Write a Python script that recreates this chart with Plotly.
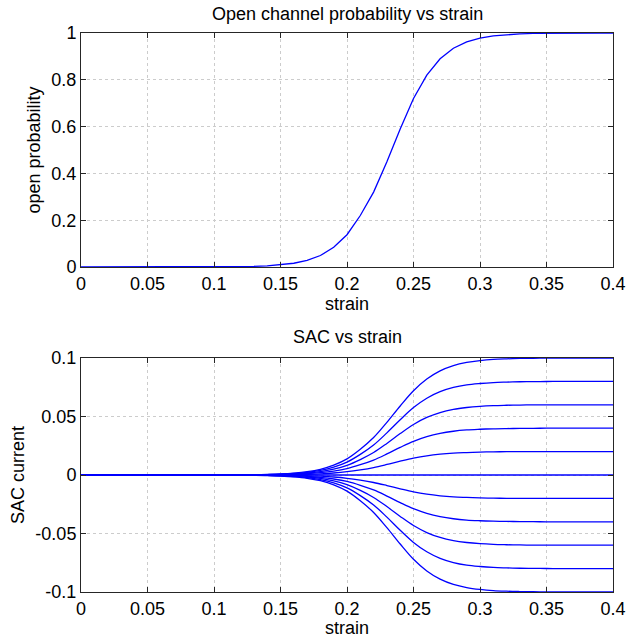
import plotly.graph_objects as go
from plotly.subplots import make_subplots

strain = [0.00, 0.01, 0.02, 0.03, 0.04, 0.05, 0.06, 0.07, 0.08, 0.09,
          0.10, 0.11, 0.12, 0.13, 0.14, 0.15, 0.16, 0.17, 0.18, 0.19,
          0.20, 0.21, 0.22, 0.23, 0.24, 0.25, 0.26, 0.27, 0.28, 0.29,
          0.30, 0.31, 0.32, 0.33, 0.34, 0.35, 0.36, 0.37, 0.38, 0.39, 0.40]

Z10 = [0.0] * 10

open_prob = Z10 + [0.0006, 0.001, 0.002, 0.003, 0.005, 0.009, 0.016, 0.028, 0.049, 0.084,
                   0.138, 0.22, 0.32, 0.45, 0.59, 0.72, 0.82, 0.89, 0.935, 0.962,
                   0.978, 0.988, 0.993, 0.996, 0.998, 0.999, 1.0, 1.0, 1.0, 1.0, 1.0]

sac_p10 = Z10 + [0.00006, 0.0001, 0.0002, 0.0003, 0.0005, 0.0009, 0.0016, 0.0028, 0.0049, 0.0084,
                 0.0138, 0.022, 0.032, 0.045, 0.059, 0.072, 0.082, 0.089, 0.0935, 0.0962,
                 0.0978, 0.0988, 0.0993, 0.0996, 0.0998, 0.0999, 0.1, 0.1, 0.1, 0.1, 0.1]
sac_p08 = Z10 + [0.00005, 0.0001, 0.0002, 0.0002, 0.0004, 0.0007, 0.0013, 0.0022, 0.0039, 0.0067,
                 0.011, 0.0176, 0.0256, 0.036, 0.0472, 0.0576, 0.0656, 0.0712, 0.0748, 0.077,
                 0.0782, 0.079, 0.0794, 0.0797, 0.0798, 0.0799, 0.08, 0.08, 0.08, 0.08, 0.08]
sac_p06 = Z10 + [0.00004, 0.00006, 0.0001, 0.0002, 0.0003, 0.0005, 0.001, 0.0017, 0.0029, 0.005,
                 0.0083, 0.0132, 0.0192, 0.027, 0.0354, 0.0432, 0.0492, 0.0534, 0.0561, 0.0577,
                 0.0587, 0.0593, 0.0596, 0.0598, 0.0599, 0.06, 0.06, 0.06, 0.06, 0.06, 0.06]
sac_p04 = Z10 + [0.00002, 0.00004, 0.0001, 0.0001, 0.0002, 0.0004, 0.0006, 0.0011, 0.002, 0.0034,
                 0.0055, 0.0088, 0.0128, 0.018, 0.0236, 0.0288, 0.0328, 0.0356, 0.0374, 0.0385,
                 0.0391, 0.0395, 0.0397, 0.0398, 0.0399, 0.04, 0.04, 0.04, 0.04, 0.04, 0.04]
sac_p02 = Z10 + [0.00001, 0.00002, 0.00004, 0.00006, 0.0001, 0.0002, 0.0003, 0.0006, 0.001, 0.0017,
                 0.0028, 0.0044, 0.0064, 0.009, 0.0118, 0.0144, 0.0164, 0.0178, 0.0187, 0.0192,
                 0.0196, 0.0198, 0.0199, 0.0199, 0.02, 0.02, 0.02, 0.02, 0.02, 0.02, 0.02]
sac_00 = Z10 + [0.0] * 31
sac_m02 = Z10 + [-0.00001, -0.00002, -0.00004, -0.00006, -0.0001, -0.0002, -0.0003, -0.0006, -0.001, -0.0017,
                 -0.0028, -0.0044, -0.0064, -0.009, -0.0118, -0.0144, -0.0164, -0.0178, -0.0187, -0.0192,
                 -0.0196, -0.0198, -0.0199, -0.0199, -0.02, -0.02, -0.02, -0.02, -0.02, -0.02, -0.02]
sac_m04 = Z10 + [-0.00002, -0.00004, -0.0001, -0.0001, -0.0002, -0.0004, -0.0006, -0.0011, -0.002, -0.0034,
                 -0.0055, -0.0088, -0.0128, -0.018, -0.0236, -0.0288, -0.0328, -0.0356, -0.0374, -0.0385,
                 -0.0391, -0.0395, -0.0397, -0.0398, -0.0399, -0.04, -0.04, -0.04, -0.04, -0.04, -0.04]
sac_m06 = Z10 + [-0.00004, -0.00006, -0.0001, -0.0002, -0.0003, -0.0005, -0.001, -0.0017, -0.0029, -0.005,
                 -0.0083, -0.0132, -0.0192, -0.027, -0.0354, -0.0432, -0.0492, -0.0534, -0.0561, -0.0577,
                 -0.0587, -0.0593, -0.0596, -0.0598, -0.0599, -0.06, -0.06, -0.06, -0.06, -0.06, -0.06]
sac_m08 = Z10 + [-0.00005, -0.0001, -0.0002, -0.0002, -0.0004, -0.0007, -0.0013, -0.0022, -0.0039, -0.0067,
                 -0.011, -0.0176, -0.0256, -0.036, -0.0472, -0.0576, -0.0656, -0.0712, -0.0748, -0.077,
                 -0.0782, -0.079, -0.0794, -0.0797, -0.0798, -0.0799, -0.08, -0.08, -0.08, -0.08, -0.08]
sac_m10 = Z10 + [-0.00006, -0.0001, -0.0002, -0.0003, -0.0005, -0.0009, -0.0016, -0.0028, -0.0049, -0.0084,
                 -0.0138, -0.022, -0.032, -0.045, -0.059, -0.072, -0.082, -0.089, -0.0935, -0.0962,
                 -0.0978, -0.0988, -0.0993, -0.0996, -0.0998, -0.0999, -0.1, -0.1, -0.1, -0.1, -0.1]

sac_series = [sac_p10, sac_p08, sac_p06, sac_p04, sac_p02, sac_00,
              sac_m02, sac_m04, sac_m06, sac_m08, sac_m10]

x_ticks = [0, 0.05, 0.1, 0.15, 0.2, 0.25, 0.3, 0.35, 0.4]
x_ticktext = ["0", "0.05", "0.1", "0.15", "0.2", "0.25", "0.3", "0.35", "0.4"]
y1_ticks = [0, 0.2, 0.4, 0.6, 0.8, 1]
y1_ticktext = ["0", "0.2", "0.4", "0.6", "0.8", "1"]
y2_ticks = [-0.1, -0.05, 0, 0.05, 0.1]
y2_ticktext = ["-0.1", "-0.05", "0", "0.05", "0.1"]

BLUE = "#0000FF"
FONT = "Liberation Sans, Arial, sans-serif"
FS = 18

fig = make_subplots(rows=2, cols=1, vertical_spacing=0.1628)
fig.add_trace(go.Scatter(x=strain, y=open_prob, mode="lines",
                         line=dict(color=BLUE, width=1.3), showlegend=False), row=1, col=1)
for s in sac_series:
    fig.add_trace(go.Scatter(x=strain, y=s, mode="lines", line_shape="spline",
                             line=dict(color=BLUE, width=1.3), showlegend=False), row=2, col=1)

axis_common = dict(showline=True, linecolor="#262626", linewidth=1, mirror="allticks",
                   ticks="inside", ticklen=5, tickcolor="#262626", automargin=False,
                   showgrid=True, gridcolor="#cccccc", griddash="dot", gridwidth=1,
                   zeroline=False, tickfont=dict(size=FS, color="#000000", family=FONT))

fig.update_xaxes(range=[0, 0.4], tickvals=x_ticks, ticktext=x_ticktext,
                 title=dict(text="strain", font=dict(size=FS, color="#000000", family=FONT), standoff=0),
                 **axis_common)
fig.update_yaxes(range=[0, 1], tickvals=y1_ticks, ticktext=y1_ticktext,
                 title=dict(text="open probability", font=dict(size=FS, color="#000000", family=FONT), standoff=6),
                 row=1, col=1, **axis_common)
fig.update_yaxes(range=[-0.1, 0.1], tickvals=y2_ticks, ticktext=y2_ticktext,
                 title=dict(text="SAC current", font=dict(size=FS, color="#000000", family=FONT), standoff=6),
                 row=2, col=1, **axis_common)

fig.update_layout(
    width=626, height=638,
    margin=dict(l=81, r=13, t=33, b=46),
    paper_bgcolor="white", plot_bgcolor="white",
    font=dict(family=FONT, color="#000000"),
    yaxis=dict(domain=[0.5814, 1.0]),
    yaxis2=dict(domain=[0.0, 0.4186]),
    annotations=[
        dict(text="Open channel probability vs strain", xref="paper", yref="paper",
             x=0.5, y=1.0, yanchor="middle", yshift=19, showarrow=False,
             font=dict(size=FS, family=FONT, color="#000000")),
        dict(text="SAC vs strain", xref="paper", yref="paper",
             x=0.5, y=0.4186, yanchor="middle", yshift=21, showarrow=False,
             font=dict(size=FS, family=FONT, color="#000000")),
    ],
)

fig.write_html("out.html")
